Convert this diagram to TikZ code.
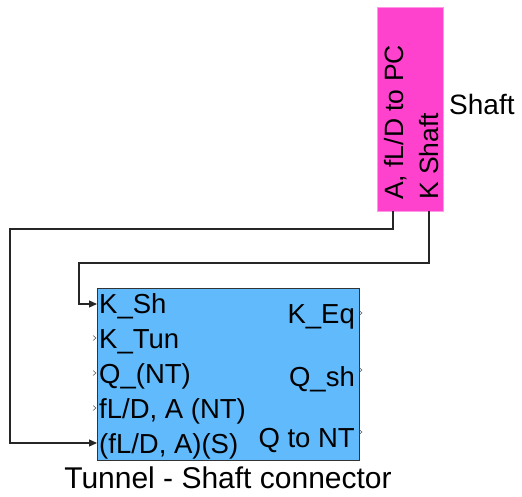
\documentclass[tikz,border=0pt]{standalone}
\usepackage{fontspec}
\setmainfont{Liberation Sans}
\usetikzlibrary{arrows.meta}
\definecolor{shaftpink}{RGB}{255,66,206}
\definecolor{shaftedge}{RGB}{255,150,230}
\definecolor{blockblue}{RGB}{96,186,252}
\tikzset{
  lbl/.style={inner sep=0pt, font=\fontsize{27.5}{32}\selectfont},
  rlbl/.style={inner sep=0pt, font=\fontsize{26.5}{30}\selectfont, rotate=90, anchor=base west},
  wire/.style={draw=black!85, line width=1.1pt, -{Triangle[length=8pt,width=7pt]}},
  porttick/.style={draw=black!70, line width=0.5pt},
}
\begin{document}
\begin{tikzpicture}[x=1pt,y=-1pt]
\useasboundingbox (0,0) rectangle (522,497);
% Shaft block
\node[draw=shaftedge, fill=shaftpink, line width=1pt, minimum width=66pt, minimum height=204pt, inner sep=0pt, anchor=north west] (shaft) at (377,7) {};
\node[rlbl] (shA) at (403,200) {A, fL/D to PC};
\node[rlbl] (shK) at (438,200) {K Shaft};
\node[lbl, anchor=base west, font=\fontsize{28}{32}\selectfont] (shname) at (449,115) {Shaft};
\coordinate (sp1) at (393,211);
\coordinate (sp2) at (429,211);
% Tunnel-shaft connector block
\node[draw=black!80, fill=blockblue, line width=1pt, minimum width=262pt, minimum height=172pt, inner sep=0pt, anchor=north west] (conn) at (97,288) {};
\node[lbl, anchor=base west] (in1) at (99,313) {K\_Sh};
\node[lbl, anchor=base west] (in2) at (99,348) {K\_Tun};
\node[lbl, anchor=base west] (in3) at (99,383) {Q\_(NT)};
\node[lbl, anchor=base west] (in4) at (99,418) {fL/D, A (NT)};
\node[lbl, anchor=base west] (in5) at (99,453) {(fL/D, A)(S)};
\node[lbl, anchor=base east] (out1) at (355,323) {K\_Eq};
\node[lbl, anchor=base east] (out2) at (355,386) {Q\_sh};
\node[lbl, anchor=base east] (out3) at (355,447) {Q to NT};
\node[lbl, anchor=base, font=\fontsize{30}{34}\selectfont] (connname) at (228,488) {Tunnel - Shaft connector};
\coordinate (ip1) at (97,304);
\coordinate (ip5) at (97,443);
% unconnected port ticks
\foreach \y in {338,373,408} {\draw[porttick] (93,\y-2.5) -- (96,\y) -- (93,\y+2.5);}
\foreach \y in {313,370,432} {\draw[porttick] (359,\y-2.5) -- (362,\y) -- (359,\y+2.5);}
% connectors
\coordinate (c1a) at (393,229);
\coordinate (c1b) at (10,229);
\coordinate (c1c) at (10,443);
\coordinate (c2a) at (429,263);
\coordinate (c2b) at (79,263);
\coordinate (c2c) at (79,304);
\draw[wire] (sp1) -- (c1a) -- (c1b) -- (c1c) -- (ip5);
\draw[wire] (sp2) -- (c2a) -- (c2b) -- (c2c) -- (ip1);
\end{tikzpicture}
\end{document}
